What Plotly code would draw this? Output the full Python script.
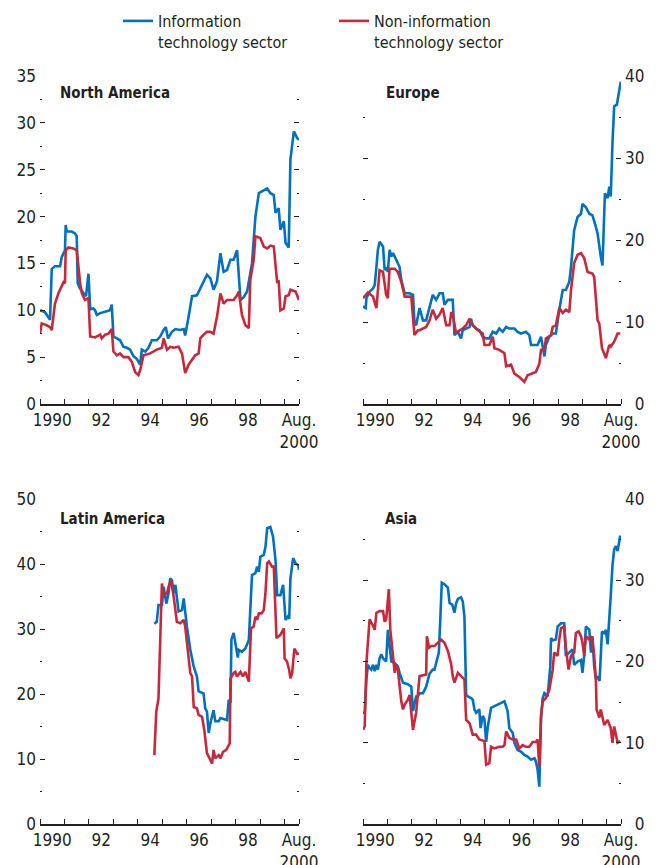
import plotly.graph_objects as go

BLUE = "#0071BC"
RED = "#C8283C"
TXT = "#231F20"
FONT = "DejaVu Sans Condensed, Liberation Sans Narrow, Arial Narrow, sans-serif"

series_names = ["Information<br>technology sector", "Non-information<br>technology sector"]
regions = ["North America", "Europe", "Latin America", "Asia"]

# ---------------- North America ----------------
na_it_x = [1990.00, 1990.20, 1990.41, 1990.48, 1990.61, 1990.82, 1990.89, 1991.02, 1991.05, 1991.09, 1991.30, 1991.43,
           1991.50, 1991.54, 1991.64, 1991.77, 1991.88, 1991.98, 1992.05, 1992.18, 1992.25, 1992.32, 1992.46, 1992.66,
           1992.86, 1992.93, 1993.00, 1993.14, 1993.27, 1993.41, 1993.55, 1993.68, 1993.82, 1993.96, 1994.09, 1994.16,
           1994.30, 1994.43, 1994.57, 1994.77, 1994.91, 1995.05, 1995.14, 1995.23, 1995.39, 1995.53, 1995.73, 1995.87,
           1995.93, 1996.07, 1996.21, 1996.41, 1996.55, 1996.68, 1996.82, 1996.96, 1997.09, 1997.23, 1997.37, 1997.50,
           1997.64, 1997.78, 1997.91, 1998.05, 1998.19, 1998.32, 1998.46, 1998.66, 1998.80, 1998.94, 1999.07, 1999.28,
           1999.41, 1999.55, 1999.62, 1999.75, 1999.82, 1999.96, 2000.03, 2000.16, 2000.23, 2000.37, 2000.50, 2000.58]
na_it_y = [10.0, 9.8, 9.0, 14.4, 14.7, 14.7, 15.7, 16.4, 19.1, 18.4, 18.4, 18.2,
           17.9, 12.9, 12.3, 11.9, 11.5, 13.9, 10.1, 10.2, 10.0, 9.5, 9.7, 9.85,
           10.0, 10.6, 7.2, 7.0, 6.8, 6.1, 6.0, 5.8, 5.1, 4.8, 4.2, 5.8,
           5.6, 6.0, 6.8, 6.8, 7.2, 7.9, 8.2, 7.0, 7.7, 8.0, 7.9, 8.0,
           7.3, 9.3, 11.5, 11.6, 12.3, 13.0, 13.8, 13.4, 12.2, 13.1, 16.1, 14.1,
           14.3, 15.4, 15.4, 16.4, 11.1, 11.4, 12.0, 15.0, 20.0, 22.5, 22.7, 23.0,
           22.5, 22.3, 20.4, 20.9, 18.6, 19.5, 17.2, 16.7, 26.1, 29.1, 28.4, 28.2]
na_non_x = [1990.00, 1990.07, 1990.27, 1990.41, 1990.48, 1990.61, 1990.75, 1990.89, 1990.96, 1991.02, 1991.05, 1991.16,
            1991.36, 1991.50, 1991.57, 1991.64, 1991.71, 1991.84, 1991.98, 1992.05, 1992.25, 1992.46, 1992.52, 1992.66,
            1992.80, 1992.93, 1993.00, 1993.14, 1993.27, 1993.41, 1993.61, 1993.75, 1993.89, 1994.02, 1994.09, 1994.23,
            1994.50, 1994.77, 1994.98, 1995.05, 1995.19, 1995.32, 1995.46, 1995.66, 1995.80, 1995.93, 1996.07, 1996.21,
            1996.34, 1996.48, 1996.55, 1996.68, 1996.82, 1996.96, 1997.09, 1997.23, 1997.37, 1997.50, 1997.64, 1997.91,
            1998.05, 1998.12, 1998.25, 1998.39, 1998.53, 1998.59, 1998.73, 1998.80, 1999.00, 1999.14, 1999.28, 1999.41,
            1999.55, 1999.69, 1999.75, 1999.82, 1999.96, 2000.03, 2000.16, 2000.23, 2000.44, 2000.58]
na_non_y = [7.5, 8.6, 8.4, 8.2, 7.9, 10.7, 11.8, 12.5, 13.0, 12.9, 16.4, 16.7,
            16.6, 16.4, 14.3, 12.9, 11.8, 11.1, 11.3, 7.2, 7.1, 7.4, 7.0, 7.4,
            7.5, 8.0, 5.6, 5.2, 5.4, 5.0, 5.0, 4.5, 3.4, 3.1, 3.6, 5.2,
            5.4, 5.8, 6.0, 7.0, 5.8, 6.1, 6.0, 6.1, 5.4, 3.3, 4.2, 4.7,
            5.2, 5.4, 7.0, 7.4, 7.7, 7.7, 7.5, 9.3, 11.8, 10.7, 11.1, 11.1,
            11.6, 12.0, 9.5, 8.4, 8.1, 13.2, 15.4, 17.9, 17.7, 16.8, 16.6, 16.9,
            16.8, 12.9, 13.2, 10.0, 10.2, 11.5, 11.6, 12.2, 12.0, 11.1]

# ---------------- Europe ----------------
eu_it_x = [1990.00, 1990.11, 1990.14, 1990.27, 1990.41, 1990.48, 1990.55, 1990.61, 1990.68, 1990.82, 1990.89, 1990.95,
           1991.02, 1991.09, 1991.16, 1991.23, 1991.36, 1991.50, 1991.57, 1991.71, 1991.91, 1992.05, 1992.11, 1992.18,
           1992.32, 1992.46, 1992.59, 1992.73, 1992.86, 1993.00, 1993.14, 1993.27, 1993.34, 1993.48, 1993.68, 1993.75,
           1993.89, 1994.02, 1994.09, 1994.23, 1994.37, 1994.43, 1994.50, 1994.64, 1994.77, 1994.91, 1995.05, 1995.18,
           1995.32, 1995.46, 1995.59, 1995.73, 1995.87, 1996.00, 1996.21, 1996.34, 1996.48, 1996.68, 1996.82, 1996.89,
           1997.16, 1997.30, 1997.44, 1997.50, 1997.64, 1997.78, 1997.91, 1998.05, 1998.19, 1998.32, 1998.46, 1998.53,
           1998.59, 1998.66, 1998.80, 1998.94, 1999.00, 1999.14, 1999.28, 1999.41, 1999.55, 1999.62, 1999.75, 1999.82,
           1999.92, 2000.03, 2000.10, 2000.16, 2000.23, 2000.30, 2000.41, 2000.50, 2000.57]
eu_it_y = [11.9, 11.7, 12.9, 13.7, 14.1, 14.5, 16.7, 18.8, 19.8, 19.2, 16.3, 16.7,
           16.1, 18.8, 18.0, 18.4, 17.6, 16.7, 15.1, 13.5, 13.5, 13.3, 10.0, 9.6,
           11.7, 10.2, 10.2, 11.7, 13.3, 12.7, 13.5, 13.5, 12.1, 12.7, 12.7, 8.4,
           8.8, 8.0, 9.0, 9.2, 9.4, 10.4, 9.6, 9.2, 9.0, 8.2, 8.0, 8.0,
           8.8, 8.6, 9.2, 8.8, 9.4, 9.2, 9.2, 8.8, 8.6, 8.8, 8.4, 7.2,
           7.2, 8.2, 5.8, 7.2, 8.2, 8.6, 8.6, 11.5, 13.9, 13.9, 14.9, 16.7,
           18.8, 21.2, 22.8, 23.2, 24.4, 24.0, 23.2, 23.0, 21.6, 20.8, 18.0, 16.9,
           25.7, 25.1, 26.5, 25.3, 31.8, 36.3, 36.5, 37.9, 39.3]
eu_non_x = [1990.00, 1990.20, 1990.41, 1990.55, 1990.68, 1990.82, 1990.95, 1991.02, 1991.09, 1991.30, 1991.43, 1991.57,
            1991.71, 1991.84, 1991.98, 1992.11, 1992.25, 1992.32, 1992.46, 1992.59, 1992.73, 1992.86, 1993.00, 1993.14,
            1993.27, 1993.41, 1993.55, 1993.62, 1993.68, 1993.82, 1993.96, 1994.09, 1994.23, 1994.37, 1994.50, 1994.71,
            1994.91, 1994.98, 1995.18, 1995.32, 1995.39, 1995.59, 1995.80, 1995.87, 1996.07, 1996.21, 1996.41, 1996.62,
            1996.75, 1996.89, 1997.09, 1997.23, 1997.30, 1997.44, 1997.50, 1997.71, 1997.78, 1997.91, 1998.05, 1998.19,
            1998.32, 1998.46, 1998.53, 1998.66, 1998.80, 1998.94, 1999.07, 1999.21, 1999.41, 1999.48, 1999.62, 1999.69,
            1999.80, 1999.96, 2000.10, 2000.16, 2000.30, 2000.44, 2000.55]
eu_non_y = [12.9, 13.6, 13.1, 11.7, 16.3, 16.1, 13.3, 12.9, 16.5, 16.5, 16.1, 14.9,
            13.1, 13.1, 13.1, 8.4, 9.0, 9.0, 9.2, 9.4, 10.2, 11.5, 10.4, 10.9,
            11.7, 9.6, 9.6, 11.2, 10.9, 8.6, 9.0, 9.2, 9.6, 10.4, 9.6, 9.0,
            8.6, 7.2, 7.2, 8.2, 6.8, 6.6, 6.2, 4.6, 4.8, 3.7, 3.3, 2.7,
            3.5, 3.7, 3.9, 4.9, 6.6, 6.6, 8.0, 8.4, 9.4, 9.6, 11.7, 11.1,
            11.5, 11.2, 13.9, 17.2, 18.2, 18.4, 17.8, 16.1, 15.9, 15.5, 10.2, 9.8,
            6.8, 5.6, 7.2, 7.0, 7.6, 8.6, 8.6]

# ---------------- Latin America ----------------
la_it_x = [1994.67, 1994.77, 1994.84, 1994.98, 1995.05, 1995.16, 1995.25, 1995.32, 1995.39, 1995.46, 1995.53, 1995.66,
           1995.80, 1995.87, 1996.00, 1996.14, 1996.28, 1996.41, 1996.48, 1996.68, 1996.75, 1996.82, 1996.89, 1996.96,
           1997.09, 1997.16, 1997.30, 1997.37, 1997.64, 1997.71, 1997.78, 1997.82, 1997.91, 1997.98, 1998.08, 1998.12,
           1998.25, 1998.39, 1998.53, 1998.66, 1998.80, 1998.87, 1998.94, 1999.00, 1999.14, 1999.21, 1999.28, 1999.41,
           1999.52, 1999.62, 1999.69, 1999.82, 1999.93, 2000.03, 2000.12, 2000.18, 2000.23, 2000.34, 2000.44, 2000.55,
           2000.58]
la_it_y = [30.8, 31.1, 33.7, 33.7, 36.5, 33.9, 35.5, 37.8, 37.5, 35.5, 36.8, 32.7,
           32.9, 34.7, 30.4, 26.8, 24.2, 22.7, 20.4, 20.1, 17.8, 17.3, 14.0, 15.5,
           17.5, 15.8, 15.8, 16.3, 16.0, 19.1, 18.6, 28.4, 29.4, 27.7, 25.6, 26.8,
           26.5, 27.0, 28.3, 38.3, 38.6, 39.6, 38.8, 41.1, 41.4, 42.6, 45.5, 45.7,
           44.2, 40.6, 35.2, 35.2, 36.8, 31.4, 31.9, 31.6, 37.8, 40.9, 40.1, 39.8,
           39.1]
la_non_x = [1994.67, 1994.75, 1994.84, 1994.98, 1995.05, 1995.19, 1995.25, 1995.35, 1995.46, 1995.59, 1995.73, 1995.87,
            1995.93, 1996.07, 1996.14, 1996.21, 1996.28, 1996.41, 1996.48, 1996.62, 1996.71, 1996.82, 1996.96, 1997.03,
            1997.09, 1997.16, 1997.30, 1997.37, 1997.48, 1997.61, 1997.75, 1997.78, 1997.91, 1997.98, 1998.05, 1998.19,
            1998.29, 1998.39, 1998.53, 1998.62, 1998.73, 1998.80, 1998.87, 1998.94, 1999.05, 1999.14, 1999.21, 1999.28,
            1999.35, 1999.48, 1999.55, 1999.66, 1999.82, 1999.96, 1999.99, 2000.09, 2000.18, 2000.23, 2000.30, 2000.39,
            2000.50, 2000.58]
la_non_y = [10.6, 17.3, 19.3, 37.0, 35.2, 35.5, 36.5, 37.5, 35.0, 31.1, 30.9, 31.4,
            30.4, 25.3, 23.2, 22.7, 18.0, 17.8, 16.8, 16.5, 14.5, 10.9, 9.9, 9.3,
            11.4, 10.1, 10.6, 10.1, 11.1, 11.4, 12.4, 22.4, 23.2, 23.4, 22.7, 23.4,
            22.7, 23.4, 21.9, 30.1, 30.4, 31.9, 31.4, 32.4, 32.4, 32.9, 35.5, 40.1,
            40.4, 39.6, 39.6, 28.6, 29.1, 30.1, 25.5, 25.0, 23.7, 22.4, 23.2, 27.0,
            26.2, 26.2]

# ---------------- Asia ----------------
as_it_x = [1990.00, 1990.07, 1990.14, 1990.20, 1990.27, 1990.34, 1990.41, 1990.48, 1990.55, 1990.61, 1990.68, 1990.75,
           1990.82, 1990.89, 1990.95, 1991.02, 1991.09, 1991.16, 1991.30, 1991.36, 1991.43, 1991.50, 1991.64, 1991.84,
           1991.98, 1992.05, 1992.18, 1992.25, 1992.32, 1992.46, 1992.59, 1992.73, 1992.86, 1992.93, 1993.00, 1993.11,
           1993.17, 1993.23, 1993.34, 1993.48, 1993.55, 1993.66, 1993.75, 1993.82, 1993.89, 1994.02, 1994.09, 1994.16,
           1994.23, 1994.30, 1994.43, 1994.50, 1994.57, 1994.64, 1994.77, 1994.82, 1994.91, 1994.98, 1995.05, 1995.12,
           1995.25, 1995.39, 1995.53, 1995.66, 1995.80, 1995.93, 1996.00, 1996.14, 1996.21, 1996.34, 1996.48, 1996.62,
           1996.75, 1996.89, 1997.03, 1997.09, 1997.16, 1997.23, 1997.30, 1997.37, 1997.44, 1997.57, 1997.64, 1997.68,
           1997.71, 1997.78, 1997.91, 1997.98, 1998.12, 1998.25, 1998.32, 1998.46, 1998.59, 1998.66, 1998.80, 1998.94,
           1999.00, 1999.07, 1999.14, 1999.28, 1999.35, 1999.41, 1999.48, 1999.55, 1999.62, 1999.70, 1999.80, 1999.89,
           1999.96, 2000.03, 2000.10, 2000.16, 2000.23, 2000.30, 2000.37, 2000.44, 2000.55]
as_it_y = [13.7, 13.7, 17.8, 19.6, 19.2, 19.0, 19.6, 18.8, 19.6, 19.0, 20.4, 20.9,
           20.4, 20.2, 20.0, 23.9, 21.9, 20.0, 19.8, 19.6, 19.4, 18.6, 17.4, 17.2,
           16.9, 13.9, 15.7, 15.7, 16.1, 16.1, 16.9, 18.5, 19.0, 19.0, 19.8, 21.1,
           25.2, 29.7, 29.5, 29.1, 27.2, 27.0, 26.0, 27.2, 27.7, 27.9, 27.4, 25.5,
           15.9, 15.7, 15.5, 15.3, 14.1, 13.7, 14.1, 11.8, 13.3, 12.9, 10.1, 12.0,
           14.3, 14.5, 14.7, 14.9, 15.1, 13.9, 11.8, 11.2, 10.0, 9.1, 8.9, 8.5,
           8.3, 7.9, 8.1, 7.7, 6.7, 4.6, 12.9, 15.5, 16.1, 15.7, 17.8, 19.4,
           22.9, 22.6, 22.7, 24.3, 24.7, 24.7, 20.7, 21.1, 21.5, 19.6, 20.0, 20.2,
           18.6, 20.7, 24.3, 23.9, 21.1, 23.1, 19.4, 17.8, 18.2, 17.6, 23.7, 23.5,
           23.9, 22.1, 24.7, 28.1, 31.8, 33.8, 34.2, 33.6, 35.5]
as_non_x = [1990.00, 1990.07, 1990.14, 1990.27, 1990.41, 1990.48, 1990.55, 1990.68, 1990.82, 1990.89, 1990.95, 1991.06,
            1991.12, 1991.23, 1991.30, 1991.36, 1991.43, 1991.57, 1991.64, 1991.71, 1991.84, 1991.91, 1992.05, 1992.18,
            1992.25, 1992.32, 1992.59, 1992.62, 1992.71, 1992.80, 1992.93, 1993.07, 1993.20, 1993.34, 1993.48, 1993.62,
            1993.68, 1993.75, 1993.89, 1994.02, 1994.16, 1994.23, 1994.37, 1994.50, 1994.64, 1994.77, 1994.98, 1995.05,
            1995.18, 1995.25, 1995.39, 1995.59, 1995.73, 1995.80, 1995.87, 1996.00, 1996.14, 1996.28, 1996.41, 1996.55,
            1996.68, 1996.82, 1996.96, 1997.09, 1997.16, 1997.23, 1997.30, 1997.37, 1997.50, 1997.64, 1997.78, 1997.84,
            1997.98, 1998.05, 1998.12, 1998.25, 1998.32, 1998.43, 1998.53, 1998.66, 1998.73, 1998.84, 1998.94, 1999.00,
            1999.07, 1999.14, 1999.28, 1999.39, 1999.48, 1999.55, 1999.58, 1999.69, 1999.75, 1999.89, 2000.03, 2000.16,
            2000.23, 2000.30, 2000.44, 2000.55]
as_non_y = [11.6, 12.0, 19.8, 25.2, 24.4, 23.9, 26.0, 26.2, 26.2, 24.9, 25.2, 28.9,
            23.9, 20.7, 18.6, 19.6, 19.0, 15.1, 14.1, 14.7, 15.3, 15.9, 11.6, 13.7,
            16.1, 18.2, 18.4, 23.1, 21.7, 21.9, 21.9, 22.3, 22.7, 22.3, 21.3, 19.6,
            18.2, 17.4, 18.6, 18.2, 17.8, 12.8, 12.4, 11.0, 11.0, 10.4, 10.2, 7.3,
            7.5, 9.5, 9.3, 9.5, 9.5, 9.7, 11.4, 10.6, 10.4, 10.4, 9.3, 9.7,
            9.5, 9.5, 10.1, 10.1, 10.4, 7.1, 13.4, 15.1, 15.5, 16.5, 19.0, 21.1,
            20.7, 22.7, 24.1, 24.3, 21.7, 19.0, 20.7, 21.1, 23.5, 23.7, 23.1, 22.3,
            20.7, 23.1, 22.7, 23.1, 20.7, 17.8, 14.1, 13.1, 14.1, 12.2, 12.8, 11.8,
            10.0, 12.0, 10.0, 10.2]

# axis ticks
year_starts = list(range(1990, 2001)) + [2000.58]
label_pos = [1990.5, 1992.5, 1994.5, 1996.5, 1998.5, 2000.58]
label_text = ["1990", "92", "94", "96", "98", "Aug.<br>2000"]

W, H = 656, 865
xdoms = {"L": [40 / W, 299 / W], "R": [363 / W, 621 / W]}
ydoms = {"T": [(H - 404) / H, (H - 76) / H], "B": [(H - 824) / H, (H - 499) / H]}

panel_data = [
    (na_it_x, na_it_y, na_non_x, na_non_y, "L", "T", 35, 5),
    (eu_it_x, eu_it_y, eu_non_x, eu_non_y, "R", "T", 40, 10),
    (la_it_x, la_it_y, la_non_x, la_non_y, "L", "B", 50, 10),
    (as_it_x, as_it_y, as_non_x, as_non_y, "R", "B", 40, 10),
]

fig = go.Figure()
layout = {}
for i, (ix, iy, nx, ny, hs, vs, ymax, ystep) in enumerate(panel_data):
    k = "" if i == 0 else str(i + 1)
    fig.add_trace(go.Scatter(x=ix, y=iy, mode="lines", line=dict(color=BLUE, width=2.6),
                             name=series_names[0], showlegend=(i == 0), legendrank=1,
                             xaxis="x" + k, yaxis="y" + k))
    fig.add_trace(go.Scatter(x=nx, y=ny, mode="lines", line=dict(color=RED, width=2.6),
                             name=series_names[1], showlegend=(i == 0), legendrank=2,
                             xaxis="x" + k, yaxis="y" + k))
    layout["xaxis" + k] = dict(
        domain=xdoms[hs], anchor="y" + k, range=[1990, 2000.58], automargin=False,
        showline=True, linecolor=TXT, linewidth=1.5, showgrid=False, zeroline=False,
        tickmode="array", tickvals=label_pos, ticktext=label_text, ticks="",
        tickfont=dict(family=FONT, size=17, color=TXT),
        minor=dict(tickmode="array", tickvals=year_starts, ticks="inside", ticklen=5,
                   tickwidth=1.3, tickcolor=TXT, showgrid=False),
    )
    yvals = list(range(0, ymax + 1, ystep))
    ytext = [str(v) for v in yvals]
    if hs == "R":
        ytext = [("\u2007" + t) if len(t) == 1 else t for t in ytext]
    layout["yaxis" + k] = dict(
        domain=ydoms[vs], anchor="x" + k, range=[0, ymax], automargin=False,
        side="left" if hs == "L" else "right",
        showline=False, showgrid=False, zeroline=False,
        tickmode="array", tickvals=yvals, ticktext=ytext, ticks="inside", ticklen=5, tickwidth=1.3,
        tickcolor=TXT, mirror="ticks", ticklabelstandoff=3,
        tickfont=dict(family=FONT, size=17, color=TXT),
        minor=dict(tickmode="linear", tick0=0, dtick=ystep / 2, ticks="inside", ticklen=2,
                   tickwidth=1.3, tickcolor=TXT, showgrid=False),
    )

annotations = []
title_pos = [(58, 93), (384, 93), (58, 519), (383, 519)]
for name, (px, py) in zip(regions, title_pos):
    annotations.append(dict(text="<b>" + name + "</b>", x=px / W, y=1 - py / H, xref="paper", yref="paper",
                            xanchor="left", yanchor="middle", showarrow=False,
                            font=dict(family=FONT, size=15, color=TXT)))

fig.update_layout(
    template="none",
    width=W, height=H, margin=dict(l=0, r=0, t=0, b=0, autoexpand=False),
    paper_bgcolor="white", plot_bgcolor="white",
    font=dict(family=FONT, size=17, color=TXT),
    showlegend=True,
    legend=dict(orientation="h", x=118 / W, y=1 - 4 / H, xanchor="left", yanchor="top",
                font=dict(family=FONT, size=16, color=TXT), itemwidth=30, valign="top",
                entrywidth=171, bgcolor="rgba(0,0,0,0)", borderwidth=0, tracegroupgap=0),
    annotations=annotations,
    **layout,
)

fig.write_html("out.html")
